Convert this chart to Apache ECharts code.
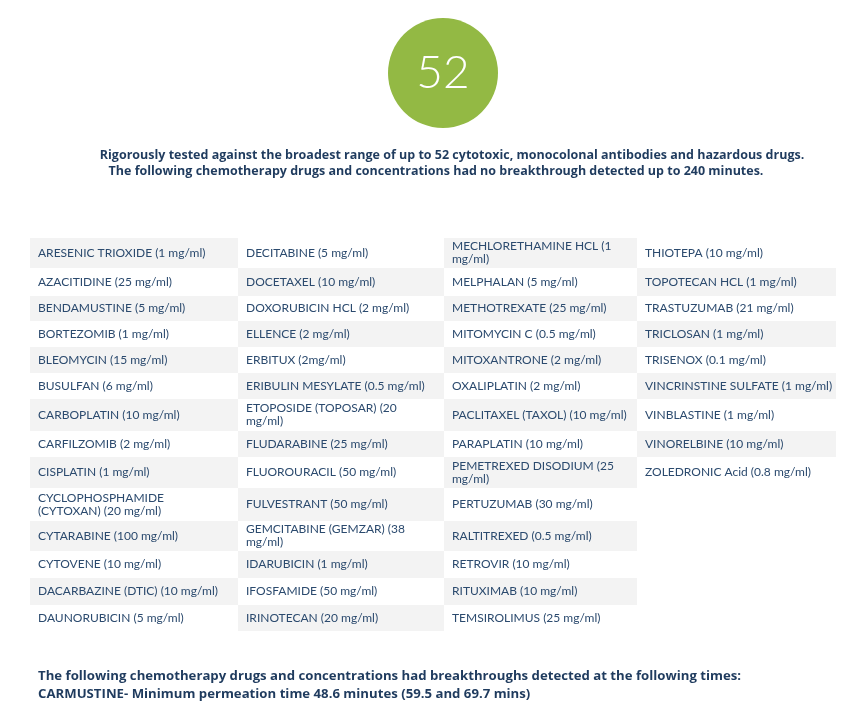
<!DOCTYPE html>
<html>
<head>
<meta charset="utf-8">
<script src="https://cdn.jsdelivr.net/npm/echarts@6/dist/echarts.min.js"></script>
<style>html,body{margin:0;padding:0;background:#fff}#main{width:864px;height:720px}</style>
</head>
<body>
<div id="main"></div>
<script>
var drugCount = 52;
var col1 = ["ARESENIC TRIOXIDE (1 mg/ml)","AZACITIDINE (25 mg/ml)","BENDAMUSTINE (5 mg/ml)","BORTEZOMIB (1 mg/ml)","BLEOMYCIN (15 mg/ml)","BUSULFAN (6 mg/ml)","CARBOPLATIN (10 mg/ml)","CARFILZOMIB (2 mg/ml)","CISPLATIN (1 mg/ml)","CYCLOPHOSPHAMIDE\n(CYTOXAN) (20 mg/ml)","CYTARABINE (100 mg/ml)","CYTOVENE (10 mg/ml)","DACARBAZINE (DTIC) (10 mg/ml)","DAUNORUBICIN (5 mg/ml)"];
var col2 = ["DECITABINE (5 mg/ml)","DOCETAXEL (10 mg/ml)","DOXORUBICIN HCL (2 mg/ml)","ELLENCE (2 mg/ml)","ERBITUX (2mg/ml)","ERIBULIN MESYLATE (0.5 mg/ml)","ETOPOSIDE (TOPOSAR) (20\nmg/ml)","FLUDARABINE (25 mg/ml)","FLUOROURACIL (50 mg/ml)","FULVESTRANT (50 mg/ml)","GEMCITABINE (GEMZAR) (38\nmg/ml)","IDARUBICIN (1 mg/ml)","IFOSFAMIDE (50 mg/ml)","IRINOTECAN (20 mg/ml)"];
var col3 = ["MECHLORETHAMINE HCL (1\nmg/ml)","MELPHALAN (5 mg/ml)","METHOTREXATE (25 mg/ml)","MITOMYCIN C (0.5 mg/ml)","MITOXANTRONE (2 mg/ml)","OXALIPLATIN (2 mg/ml)","PACLITAXEL (TAXOL) (10 mg/ml)","PARAPLATIN (10 mg/ml)","PEMETREXED DISODIUM (25\nmg/ml)","PERTUZUMAB (30 mg/ml)","RALTITREXED (0.5 mg/ml)","RETROVIR (10 mg/ml)","RITUXIMAB (10 mg/ml)","TEMSIROLIMUS (25 mg/ml)"];
var col4 = ["THIOTEPA (10 mg/ml)","TOPOTECAN HCL (1 mg/ml)","TRASTUZUMAB (21 mg/ml)","TRICLOSAN (1 mg/ml)","TRISENOX (0.1 mg/ml)","VINCRINSTINE SULFATE (1 mg/ml)","VINBLASTINE (1 mg/ml)","VINORELBINE (10 mg/ml)","ZOLEDRONIC Acid (0.8 mg/ml)"];
var headerLines = ["Rigorously tested against the broadest range of up to 52 cytotoxic, monocolonal antibodies and hazardous drugs.","The following chemotherapy drugs and concentrations had no breakthrough detected up to 240 minutes."];
var footerLines = ["The following chemotherapy drugs and concentrations had breakthroughs detected at the following times:","CARMUSTINE- Minimum permeation time 48.6 minutes (59.5 and 69.7 mins)"];

// layout (pixels)
var colEdges = [30, 238, 444, 637, 836];
var rowEdges = [238, 268, 296, 321, 347, 373, 399, 431, 457, 488, 521, 551, 578, 605, 631];

var columns = [col1, col2, col3, col4];
var cells = [];
columns.forEach(function(col, c){
  col.forEach(function(name, r){ cells.push([c, r, name]); });
});

var chart = echarts.init(document.getElementById('main'));
chart.setOption({
  animation: false,
  grid: {left: 0, right: 0, top: 0, bottom: 0},
  xAxis: {type: 'value', min: 0, max: 864, show: false},
  yAxis: {type: 'value', min: 0, max: 720, inverse: true, show: false},
  graphic: [
    {type: 'circle', shape: {cx: 443, cy: 73, r: 55}, style: {fill: '#93b944'}},
    {type: 'text', x: 443, y: 73, style: {text: String(drugCount), fill: '#fff', font: '300 46px Lato', align: 'center', verticalAlign: 'middle'}},
    {type: 'text', x: 452, y: 155, style: {text: headerLines[0], fill: '#1f3b5e', font: 'bold 12.5px "Open Sans"', align: 'center', verticalAlign: 'middle'}},
    {type: 'text', x: 436, y: 171, style: {text: headerLines[1], fill: '#1f3b5e', font: 'bold 12.5px "Open Sans"', align: 'center', verticalAlign: 'middle'}},
    {type: 'text', x: 38, y: 676, style: {text: footerLines[0], fill: '#1f3b5e', font: 'bold 13.2px "Open Sans"', verticalAlign: 'middle'}},
    {type: 'text', x: 38, y: 694, style: {text: footerLines[1], fill: '#1f3b5e', font: 'bold 13.2px "Open Sans"', verticalAlign: 'middle'}}
  ],
  series: [{
    type: 'custom',
    data: cells,
    renderItem: function(params, api){
      var c = api.value(0), r = api.value(1);
      var name = cells[params.dataIndex][2];
      var p0 = api.coord([colEdges[c], rowEdges[r]]);
      var p1 = api.coord([colEdges[c + 1], rowEdges[r + 1]]);
      return {
        type: 'group',
        children: [
          {type: 'rect', shape: {x: p0[0], y: p0[1], width: p1[0] - p0[0], height: p1[1] - p0[1]},
           style: {fill: (r + c) % 2 === 0 ? '#f3f3f3' : '#ffffff'}},
          {type: 'text', x: p0[0] + 8, y: (p0[1] + p1[1]) / 2,
           style: {text: name, fill: '#2b4a6e', font: '12px Lato', verticalAlign: 'middle', lineHeight: 13}}
        ]
      };
    }
  }]
});
</script>
</body>
</html>
